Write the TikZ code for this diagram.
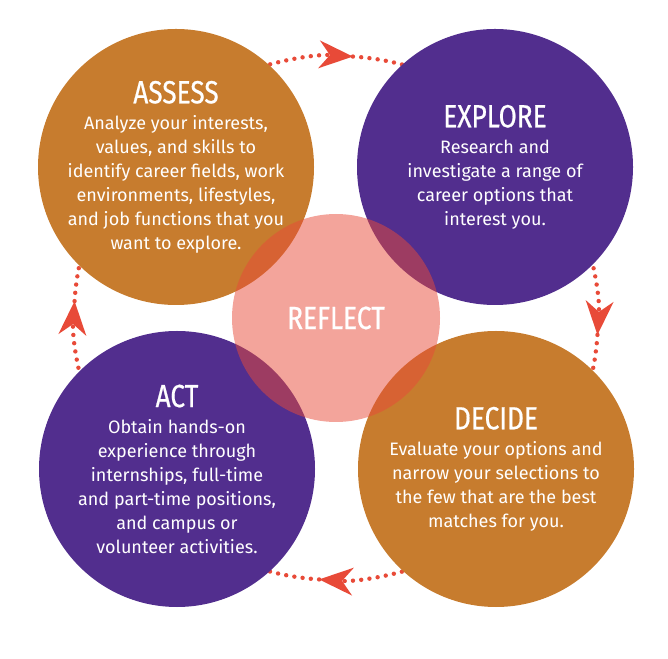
\documentclass[tikz,border=0pt]{standalone}
\usepackage{fontspec}
\setmainfont{Fira Sans}
\newfontfamily\headfont[FakeStretch=0.82, FakeBold=0.6]{Fira Sans}
\usepackage{xcolor}
\usetikzlibrary{arrows.meta}
\definecolor{careerorange}{RGB}{199,124,46}
\definecolor{careerpurple}{RGB}{82,46,142}
\definecolor{careerred}{RGB}{232,74,56}
\newcommand{\stagetitle}[1]{{\headfont\fontsize{32}{32}\selectfont #1}}

\begin{document}
\begin{tikzpicture}[x=1pt, y=1pt,
  stage/.style={circle, minimum size=276pt, inner sep=0pt, align=center, text=white, font=\fontsize{18}{24}\selectfont},
  dotline/.style={careerred, line width=4.4pt, line cap=round, dash pattern=on 0pt off 8.3pt},
  headtip/.style={-{Stealth[length=34pt, width=28pt, inset=11pt, line width=0pt]}}]
\useasboundingbox (0,0) rectangle (668,658);
\coordinate (hub) at (336,340);
% dotted arcs, arrowhead in the middle of each
\foreach \a in {90,0,-90,180} {
  \draw[dotline, headtip] (hub) ++(\a+20:262pt) arc[start angle=\a+20, end angle=\a-3.7, radius=262pt];
  \draw[dotline] (hub) ++(\a-3.7:262pt) arc[start angle=\a-3.7, end angle=\a-20, radius=262pt];
}
\node[stage, fill=careerorange] (assess) at (176,491) {\stagetitle{ASSESS}\\[2pt]
  Analyze your interests,\\ values, and skills to\\ identify career fields, work\\ environments, lifestyles,\\ and job functions that you\\ want to explore.};
\node[stage, fill=careerpurple] (explore) at (495,491) {\stagetitle{EXPLORE}\\[2pt]
  Research and\\ investigate a range of\\ career options that\\ interest you.};
\node[stage, fill=careerpurple] (act) at (177,189) {\stagetitle{ACT}\\[2pt]
  Obtain hands-on\\ experience through\\ internships, full-time\\ and part-time positions,\\ and campus or\\ volunteer activities.};
\node[stage, fill=careerorange] (decide) at (496,189) {\stagetitle{DECIDE}\\[2pt]
  Evaluate your options and\\ narrow your selections to\\ the few that are the best\\ matches for you.};
\node[circle, minimum size=208pt, inner sep=0pt, fill=careerred, fill opacity=0.5, text opacity=1, text=white] (reflect) at (hub) {\stagetitle{REFLECT}};
\end{tikzpicture}
\end{document}
